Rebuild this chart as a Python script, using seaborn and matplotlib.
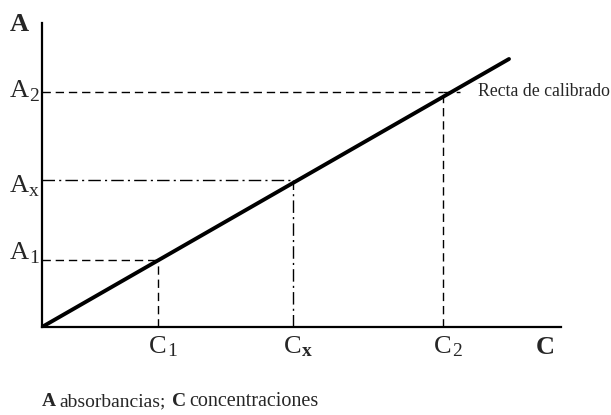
import numpy as np
import pandas as pd
import matplotlib
matplotlib.use("Agg")
import matplotlib.pyplot as plt
import seaborn as sns

# calibration curve data
line_conc = [0.0, 4.67]
line_abs = [0.0, 2.68]

point_conc = [1.16, 2.51, 4.01]
point_abs = [0.67, 1.47, 2.35]
conc_subs = ["1", "x", "2"]
abs_subs = ["1", "x", "2"]
point_styles = ["dashed", "dashdot", "dashed"]

sns.set_style("white")
plt.rcParams["font.family"] = ["Liberation Serif", "DejaVu Serif"]

fig = plt.figure(figsize=(6.11, 4.15), dpi=100)
ax = fig.add_axes([42 / 611, 88 / 415, 519 / 611, 304 / 415])

df = pd.DataFrame({"C": line_conc, "A": line_abs})
sns.lineplot(data=df, x="C", y="A", ax=ax, color="black", linewidth=2.8,
             solid_capstyle="round")
ax.set_xlabel("")
ax.set_ylabel("")

for c, a, style in zip(point_conc, point_abs, point_styles):
    dashes = (6, 3.5) if style == "dashed" else (9, 3, 1.5, 3)
    ax.plot([0, c], [a, a], color="black", lw=1.0, dashes=dashes)
    ax.plot([c, c], [0, a], color="black", lw=1.0, dashes=dashes)

# extension of the A2 dashed line past the curve
ax.plot([point_conc[2], point_conc[2] + 0.17], [point_abs[2], point_abs[2]],
        color="black", lw=1.0, dashes=(6, 3.5))

ax.set_xlim(0, 5.19)
ax.set_ylim(0, 3.04)
ax.set_xticks([])
ax.set_yticks([])
sns.despine(ax=ax)
for s in ["left", "bottom"]:
    ax.spines[s].set_linewidth(1.6)
    ax.spines[s].set_color("black")

fs = 19
sub_fs = 14

# C labels under the x axis (main letter centred, subscript to the right)
for c, sub in zip(point_conc, conc_subs):
    ax.annotate("C", xy=(c, 0), xytext=(0, -26), textcoords="offset pixels",
                ha="center", va="baseline", fontsize=fs)
    ax.annotate(sub, xy=(c, 0), xytext=(9, -29), textcoords="offset pixels",
                ha="left", va="baseline", fontsize=sub_fs,
                fontweight="bold" if sub == "x" else "normal")

# A labels left of the y axis
abs_nudge = [1, -12, -5]
for a, sub, dy in zip(point_abs, abs_subs, abs_nudge):
    ax.annotate("A", xy=(0, a), xytext=(-13, dy), textcoords="offset pixels",
                ha="right", va="baseline", fontsize=fs)
    ax.annotate(sub, xy=(0, a), xytext=(-13, dy - 4), textcoords="offset pixels",
                ha="left", va="baseline", fontsize=sub_fs)

ax.text(5.03, -0.09, "C", ha="center", va="top", fontsize=fs, fontweight="bold")
ax.text(-0.23, 3.02, "A", ha="center", va="center", fontsize=fs, fontweight="bold")

ax.text(point_conc[2] + 0.35, point_abs[2], "Recta de calibrado",
        ha="left", va="center", fontsize=12.8)

cap_y = 1 - 406 / 415
fig.text(42 / 611, cap_y, "A", ha="left", va="baseline", fontsize=14, fontweight="bold")
fig.text(59 / 611, cap_y, "absorbancias;", ha="left", va="baseline", fontsize=14)
fig.text(172 / 611, cap_y, "C", ha="left", va="baseline", fontsize=14, fontweight="bold")
fig.text(189 / 611, cap_y, "concentraciones", ha="left", va="baseline", fontsize=14.5)

fig.savefig("out.png", dpi=100)
